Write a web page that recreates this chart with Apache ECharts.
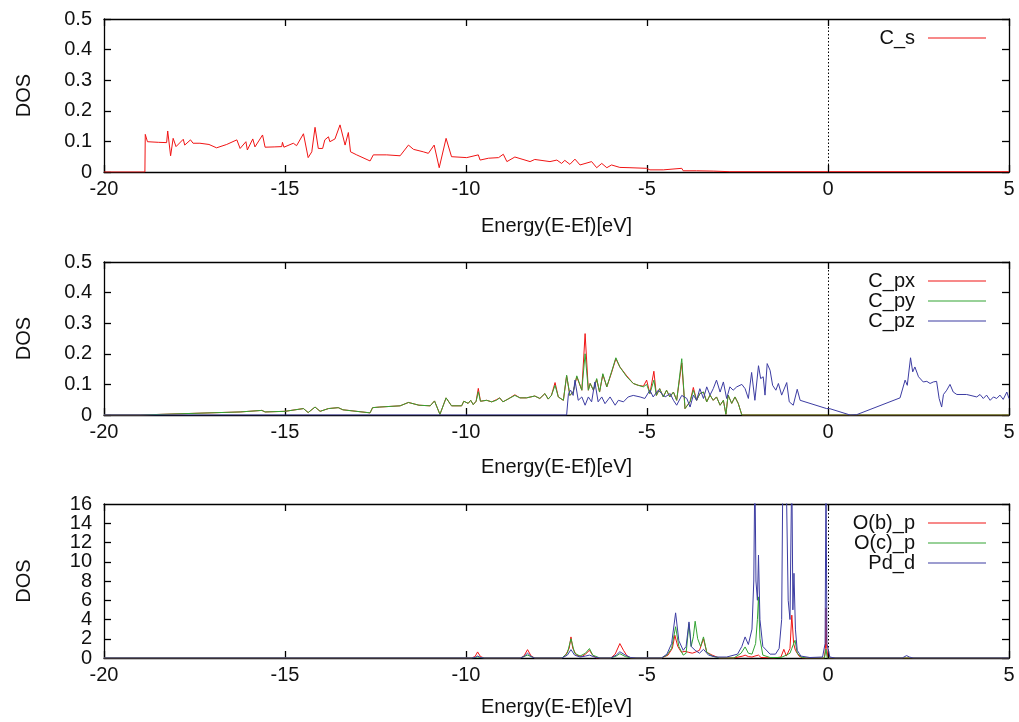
<!DOCTYPE html>
<html>
<head>
<meta charset="utf-8">
<script src="https://cdn.jsdelivr.net/npm/echarts@6/dist/echarts.min.js"></script>
<style>
  html, body { margin: 0; padding: 0; background: #fff; }
  #chart { width: 1019px; height: 722px; }
</style>
</head>
<body>
<div id="chart"></div>
<script>
// Projected density of states, energies relative to the Fermi level (eV)
const energyTicks = [-20, -15, -10, -5, 0, 5];

// Panel 1: carbon s states
const C_s = [[-20,0],[-18.87,0],[-18.86,0.123],[-18.80,0.099],[-18.5,0.097],[-18.27,0.096],[-18.24,0.134],[-18.16,0.053],[-18.09,0.11],[-18.01,0.083],[-17.81,0.107],[-17.77,0.088],[-17.61,0.105],[-17.54,0.094],[-17.35,0.094],[-17.1,0.09],[-16.89,0.079],[-16.61,0.090],[-16.33,0.105],[-16.24,0.077],[-16.08,0.099],[-16.04,0.072],[-15.89,0.108],[-15.83,0.082],[-15.62,0.121],[-15.55,0.081],[-15.3,0.082],[-15.09,0.083],[-15.07,0.097],[-15.03,0.081],[-14.77,0.094],[-14.68,0.086],[-14.49,0.125],[-14.36,0.047],[-14.26,0.066],[-14.17,0.146],[-14.08,0.077],[-13.96,0.077],[-13.90,0.105],[-13.80,0.115],[-13.76,0.099],[-13.62,0.108],[-13.48,0.154],[-13.34,0.088],[-13.25,0.129],[-13.19,0.066],[-13.02,0.056],[-12.65,0.036],[-12.56,0.056],[-12.19,0.056],[-11.82,0.053],[-11.59,0.088],[-11.45,0.074],[-11.18,0.066],[-11.04,0.061],[-10.88,0.088],[-10.74,0.014],[-10.55,0.11],[-10.40,0.05],[-9.98,0.047],[-9.66,0.056],[-9.61,0.039],[-9.38,0.045],[-9.10,0.047],[-8.97,0.058],[-8.87,0.034],[-8.65,0.049],[-8.23,0.034],[-8.10,0.041],[-7.68,0.034],[-7.49,0.039],[-7.36,0.028],[-7.27,0.038],[-7.13,0.025],[-6.99,0.042],[-6.85,0.023],[-6.53,0.034],[-6.39,0.014],[-6.25,0.028],[-6.11,0.014],[-5.98,0.023],[-5.75,0.015],[-5.47,0.014],[-5.01,0.012],[-4.92,0.007],[-4.55,0.007],[-4.04,0.012],[-4.00,0.004],[-3.63,0.004],[-3.17,0.003],[-2.71,0.001],[5,0.001]];

// Panel 2: carbon p states
const C_px = [[-20,0],[-19,0],[-17.9,0.004],[-16.24,0.01],[-15.64,0.015],[-15.55,0.010],[-15.0,0.012],[-14.49,0.021],[-14.36,0.008],[-14.17,0.026],[-14.03,0.012],[-13.80,0.021],[-13.53,0.024],[-13.4,0.017],[-12.65,0.007],[-12.58,0.024],[-12.38,0.026],[-11.82,0.03],[-11.59,0.041],[-11.3,0.032],[-10.99,0.03],[-10.87,0.046],[-10.72,0.002],[-10.55,0.056],[-10.40,0.03],[-10.12,0.03],[-10.06,0.045],[-9.94,0.038],[-9.87,0.048],[-9.80,0.034],[-9.72,0.045],[-9.66,0.087],[-9.60,0.045],[-9.43,0.048],[-9.29,0.043],[-9.16,0.05],[-9.07,0.056],[-8.98,0.043],[-8.84,0.052],[-8.65,0.066],[-8.51,0.056],[-8.33,0.056],[-8.10,0.062],[-7.96,0.054],[-7.82,0.07],[-7.73,0.052],[-7.64,0.064],[-7.54,0.106],[-7.45,0.059],[-7.31,0.048],[-7.22,0.128],[-7.13,0.064],[-7.04,0.075],[-6.94,0.125],[-6.80,0.081],[-6.71,0.266],[-6.62,0.081],[-6.57,0.103],[-6.48,0.081],[-6.39,0.116],[-6.31,0.075],[-6.22,0.132],[-6.11,0.092],[-5.98,0.138],[-5.86,0.184],[-5.75,0.157],[-5.56,0.128],[-5.38,0.103],[-5.24,0.097],[-5.10,0.094],[-5.01,0.114],[-4.92,0.07],[-4.81,0.143],[-4.74,0.064],[-4.65,0.086],[-4.55,0.059],[-4.46,0.081],[-4.37,0.059],[-4.27,0.075],[-4.18,0.048],[-4.04,0.17],[-3.95,0.021],[-3.81,0.043],[-3.72,0.09],[-3.63,0.048],[-3.54,0.07],[-3.44,0.075],[-3.35,0.043],[-3.26,0.065],[-3.17,0.048],[-3.08,0.059],[-2.98,0.032],[-2.89,0.048],[-2.82,0.002],[-2.76,0.065],[-2.66,0.038],[-2.57,0.059],[-2.48,0.038],[-2.38,0],[5,0]];
const C_py = [[-20,0],[-19,0],[-17.9,0.004],[-16.24,0.01],[-15.64,0.015],[-15.55,0.010],[-15.0,0.012],[-14.49,0.021],[-14.36,0.008],[-14.17,0.026],[-14.03,0.012],[-13.80,0.021],[-13.53,0.024],[-13.4,0.017],[-12.65,0.007],[-12.58,0.024],[-12.38,0.026],[-11.82,0.03],[-11.59,0.041],[-11.3,0.032],[-10.99,0.03],[-10.87,0.046],[-10.72,0.002],[-10.55,0.056],[-10.40,0.03],[-10.12,0.03],[-10.06,0.045],[-9.94,0.038],[-9.87,0.048],[-9.80,0.034],[-9.72,0.045],[-9.66,0.076],[-9.60,0.045],[-9.43,0.048],[-9.29,0.043],[-9.16,0.048],[-9.07,0.056],[-8.98,0.043],[-8.84,0.052],[-8.65,0.064],[-8.51,0.056],[-8.33,0.056],[-8.10,0.062],[-7.96,0.054],[-7.82,0.07],[-7.73,0.052],[-7.64,0.064],[-7.54,0.097],[-7.45,0.059],[-7.31,0.048],[-7.22,0.13],[-7.13,0.064],[-7.04,0.075],[-6.94,0.128],[-6.80,0.081],[-6.71,0.2],[-6.62,0.081],[-6.57,0.103],[-6.48,0.081],[-6.39,0.119],[-6.31,0.075],[-6.22,0.135],[-6.11,0.092],[-5.98,0.141],[-5.86,0.187],[-5.75,0.157],[-5.56,0.125],[-5.38,0.103],[-5.24,0.097],[-5.10,0.092],[-5.01,0.1],[-4.92,0.07],[-4.81,0.114],[-4.74,0.064],[-4.65,0.086],[-4.55,0.059],[-4.46,0.081],[-4.37,0.059],[-4.27,0.075],[-4.18,0.048],[-4.04,0.184],[-3.95,0.021],[-3.81,0.043],[-3.72,0.081],[-3.63,0.048],[-3.54,0.07],[-3.44,0.075],[-3.35,0.043],[-3.26,0.065],[-3.17,0.048],[-3.08,0.059],[-2.98,0.032],[-2.89,0.048],[-2.82,0.002],[-2.76,0.065],[-2.66,0.038],[-2.57,0.059],[-2.48,0.038],[-2.38,0],[5,0]];
const C_pz = [[-20,0],[-7.22,0],[-7.17,0.07],[-7.11,0.081],[-7.04,0.064],[-6.99,0.114],[-6.90,0.048],[-6.80,0.059],[-6.71,0.032],[-6.62,0.059],[-6.53,0.043],[-6.44,0.108],[-6.35,0.043],[-6.25,0.059],[-6.16,0.037],[-6.02,0.059],[-5.88,0.032],[-5.79,0.048],[-5.65,0.043],[-5.52,0.059],[-5.38,0.064],[-5.19,0.059],[-5.06,0.054],[-4.92,0.081],[-4.83,0.059],[-4.69,0.081],[-4.59,0.07],[-4.50,0.059],[-4.36,0.07],[-4.27,0.048],[-4.18,0.032],[-4.04,0.064],[-3.90,0.054],[-3.81,0.026],[-3.72,0.065],[-3.63,0.048],[-3.54,0.086],[-3.44,0.054],[-3.35,0.092],[-3.26,0.065],[-3.17,0.086],[-3.08,0.114],[-2.98,0.075],[-2.89,0.108],[-2.80,0.054],[-2.71,0.092],[-2.62,0.081],[-2.52,0.092],[-2.38,0.1],[-2.29,0.086],[-2.20,0.054],[-2.11,0.139],[-2.02,0.048],[-1.92,0.161],[-1.86,0.119],[-1.79,0.125],[-1.74,0.065],[-1.68,0.168],[-1.60,0.146],[-1.53,0.097],[-1.44,0.081],[-1.37,0.103],[-1.28,0.065],[-1.14,0.106],[-1.07,0.043],[-0.96,0.032],[-0.85,0.084],[-0.77,0.048],[-0.04,0.021],[0.04,0.021],[0.61,0],[0.79,0.001],[1.99,0.056],[2.13,0.114],[2.19,0.097],[2.28,0.187],[2.34,0.141],[2.40,0.157],[2.50,0.125],[2.63,0.108],[2.73,0.11],[2.82,0.103],[2.91,0.108],[3.00,0.11],[3.07,0.054],[3.14,0.026],[3.19,0.067],[3.28,0.081],[3.37,0.1],[3.46,0.075],[3.56,0.067],[3.83,0.067],[4.11,0.059],[4.20,0.067],[4.29,0.054],[4.38,0.065],[4.48,0.048],[4.57,0.059],[4.66,0.054],[4.75,0.065],[4.84,0.051],[4.94,0.075],[5.0,0.054]];

// Panel 3: oxygen p and palladium d states
const Ob_p = [[-20,0],[-9.85,0],[-9.75,0.15],[-9.68,0.63],[-9.6,0.15],[-9.5,0],[-8.5,0],[-8.4,0.2],[-8.3,0.87],[-8.2,0.2],[-8.1,0],[-7.35,0],[-7.25,0.3],[-7.15,1.0],[-7.10,2.19],[-7.05,1.0],[-6.95,0.3],[-6.8,0.15],[-6.7,0.4],[-6.59,0.8],[-6.5,0.3],[-6.4,0],[-6.0,0],[-5.88,0.4],[-5.75,1.5],[-5.65,0.8],[-5.55,0.2],[-5.45,0],[-4.6,0],[-4.42,0.3],[-4.3,1.0],[-4.23,2.36],[-4.15,1.2],[-4.05,0.6],[-3.95,0.7],[-3.86,0.6],[-3.75,0.5],[-3.67,0.6],[-3.55,0.8],[-3.44,2.0],[-3.35,0.6],[-3.2,0.3],[-3.0,0],[-2.6,0],[-2.35,0.2],[-2.29,0.3],[-2.2,0.15],[-2.1,0.1],[-2.02,0.2],[-1.92,0.3],[-1.85,0.05],[-1.5,0],[-1.3,0.1],[-1.22,0.9],[-1.15,0.2],[-1.05,1.0],[-1.0,4.45],[-0.95,1.5],[-0.9,0.8],[-0.8,0.2],[-0.7,0],[-0.1,0],[-0.07,1.0],[-0.055,5.2],[-0.035,1.0],[0.0,0],[5,0]];
const Oc_p = [[-20,0],[-9.85,0],[-9.68,0.1],[-9.5,0],[-8.5,0],[-8.3,0.3],[-8.1,0],[-7.35,0],[-7.2,0.5],[-7.10,2.0],[-7.0,0.5],[-6.85,0.2],[-6.7,0.5],[-6.59,0.98],[-6.5,0.3],[-6.3,0],[-6.0,0],[-5.85,0.2],[-5.75,0.45],[-5.6,0.15],[-5.45,0],[-4.6,0],[-4.45,0.3],[-4.32,1.0],[-4.21,3.25],[-4.12,1.2],[-4.0,0.3],[-3.92,0.5],[-3.84,3.57],[-3.78,1.2],[-3.72,2.2],[-3.67,3.82],[-3.6,2.0],[-3.52,1.2],[-3.44,2.19],[-3.35,0.6],[-3.2,0.2],[-3.0,0],[-2.6,0],[-2.4,0.5],[-2.29,1.15],[-2.2,0.5],[-2.1,0.4],[-2.0,1.5],[-1.95,4],[-1.92,6.35],[-1.88,2],[-1.8,0.3],[-1.6,0.05],[-1.3,0.05],[-1.15,0.3],[-1.05,0.5],[-1.0,1.0],[-0.91,1.84],[-0.85,0.5],[-0.75,0.1],[-0.6,0],[-0.1,0],[-0.055,0.9],[-0.02,0],[5,0]];
const Pd_d = [[-20,0],[-9.85,0],[-9.75,0.05],[-9.68,0.2],[-9.6,0.05],[-9.5,0],[-8.5,0],[-8.4,0.15],[-8.3,0.5],[-8.2,0.15],[-8.1,0],[-7.35,0],[-7.2,0.3],[-7.10,0.87],[-7.0,0.3],[-6.85,0.1],[-6.7,0.2],[-6.59,0.3],[-6.45,0.1],[-6.3,0],[-6.0,0],[-5.85,0.3],[-5.75,0.65],[-5.6,0.3],[-5.45,0.05],[-5.3,0],[-4.6,0],[-4.45,0.4],[-4.32,1.5],[-4.21,4.69],[-4.12,1.8],[-4.0,0.8],[-3.92,1.2],[-3.84,3.75],[-3.78,1.2],[-3.67,0.8],[-3.55,0.5],[-3.44,0.9],[-3.3,0.3],[-3.1,0.1],[-2.8,0.1],[-2.5,0.4],[-2.38,1.2],[-2.29,2.19],[-2.2,1.4],[-2.1,3.0],[-2.05,8],[-2.02,20],[-1.99,8],[-1.95,6],[-1.92,10.7],[-1.88,4],[-1.8,1.2],[-1.6,0.4],[-1.45,0.4],[-1.35,1.0],[-1.28,4],[-1.25,18],[-1.20,30],[-1.15,18],[-1.10,6],[-1.05,4],[-1.0,20],[-0.97,5],[-0.94,8.8],[-0.9,3],[-0.85,0.8],[-0.75,0.2],[-0.5,0.05],[-0.15,0.1],[-0.08,1.5],[-0.055,20],[-0.03,1.5],[0.05,0.1],[0.2,0],[2.05,0],[2.1,0.2],[2.17,0.25],[2.25,0.1],[2.35,0],[5,0]];

const panels = [
  { top: 19,  height: 153, yMax: 0.5, yStep: 0.1, labelEvery: 1, nameGap: 44,
    series: [{ name: 'C_s', data: C_s, color: '#f01414' }] },
  { top: 262, height: 153, yMax: 0.5, yStep: 0.1, labelEvery: 1, nameGap: 42,
    series: [{ name: 'C_px', data: C_px, color: '#f01414' },
             { name: 'C_py', data: C_py, color: '#33a433' },
             { name: 'C_pz', data: C_pz, color: '#3c3ca2' }] },
  { top: 504, height: 154, yMax: 16, yStep: 2, labelEvery: 2, nameGap: 39,
    series: [{ name: 'O(b)_p', data: Ob_p, color: '#f01414' },
             { name: 'O(c)_p', data: Oc_p, color: '#33a433' },
             { name: 'Pd_d', data: Pd_d, color: '#3c3ca2' }] }
];

const FONT = '"Liberation Sans", Arial, Helvetica, sans-serif';
const PLOT_LEFT = 104, PLOT_RIGHT = 10;
const labelText = { fontSize: 20, color: '#111', fontFamily: FONT };

const frameLine = { show: true, onZero: false, lineStyle: { color: '#000', width: 1.3 } };
const frameTick = { show: true, inside: true, length: 7, lineStyle: { color: '#000', width: 1.3 } };

const grid = [], xAxis = [], yAxis = [], series = [], graphic = [];

panels.forEach((p, i) => {
  grid.push({ left: PLOT_LEFT, right: PLOT_RIGHT, top: p.top, height: p.height, containLabel: false });

  // bottom energy axis with labels
  const xIndex = xAxis.length;
  xAxis.push({
    type: 'value', gridIndex: i, position: 'bottom',
    min: energyTicks[0], max: energyTicks[energyTicks.length - 1], interval: 5,
    name: 'Energy(E-Ef)[eV]', nameLocation: 'middle', nameGap: p.nameGap,
    nameTextStyle: labelText,
    axisLine: frameLine, axisTick: frameTick, splitLine: { show: false },
    axisLabel: Object.assign({ margin: 7, showMinLabel: true, showMaxLabel: true }, labelText)
  });
  // mirrored top axis (ticks only)
  xAxis.push({
    type: 'value', gridIndex: i, position: 'top',
    min: energyTicks[0], max: energyTicks[energyTicks.length - 1], interval: 5,
    axisLine: frameLine, axisTick: frameTick, splitLine: { show: false },
    axisLabel: { show: false }
  });

  // left DOS axis: carries the frame line and the main set of labels
  const labelStep = p.yStep * p.labelEvery;
  const yIndex = yAxis.length;
  yAxis.push({
    type: 'value', gridIndex: i, position: 'left',
    min: 0, max: p.yMax, interval: labelStep,
    name: 'DOS', nameLocation: 'middle', nameGap: 70, nameRotate: 90,
    nameTextStyle: labelText,
    axisLine: frameLine,
    axisTick: p.labelEvery === 1 ? frameTick : { show: false },
    splitLine: { show: false },
    axisLabel: Object.assign({ margin: 12, showMinLabel: true, showMaxLabel: true }, labelText)
  });
  if (p.labelEvery > 1) {
    // in-between labels and every tick, on a twin axis sharing the same scale
    yAxis.push({
      type: 'value', gridIndex: i, position: 'left',
      min: 0, max: p.yMax, interval: p.yStep,
      axisLine: { show: false, onZero: false }, axisTick: frameTick, splitLine: { show: false },
      axisLabel: Object.assign({
        margin: 12, showMinLabel: false, showMaxLabel: false,
        formatter: v => (Math.round(v / p.yStep) % p.labelEvery === 0 ? '' : String(v))
      }, labelText)
    });
  }
  // mirrored right axis (ticks only)
  yAxis.push({
    type: 'value', gridIndex: i, position: 'right',
    min: 0, max: p.yMax, interval: p.yStep,
    axisLine: frameLine, axisTick: frameTick, splitLine: { show: false },
    axisLabel: { show: false }
  });

  p.series.forEach((s, k) => {
    const item = {
      type: 'line', name: s.name, data: s.data,
      xAxisIndex: xIndex, yAxisIndex: yIndex,
      showSymbol: false, symbol: 'none', clip: true, z: 3 + k,
      lineStyle: { color: s.color, width: 1 },
      itemStyle: { color: s.color }
    };
    if (k === 0) {
      // Fermi level marker
      item.markLine = {
        silent: true, symbol: 'none', label: { show: false }, animation: false,
        lineStyle: { type: [1.5, 2], color: '#000', width: 1 },
        data: [{ xAxis: 0 }]
      };
    }
    series.push(item);

    // key entry: name, then a short sample of the line
    const rowY = p.top + 19 + 20 * k;
    graphic.push({
      type: 'text', x: 915, y: rowY, z: 10,
      style: { text: s.name, textAlign: 'right', textVerticalAlign: 'middle',
               font: '20px ' + FONT, fill: '#111' }
    });
    graphic.push({
      type: 'line', z: 10,
      shape: { x1: 928, y1: rowY, x2: 986, y2: rowY },
      style: { stroke: s.color, lineWidth: 1.2 }
    });
  });
});

const chart = echarts.init(document.getElementById('chart'), null, { renderer: 'canvas' });
chart.setOption({
  animation: false,
  backgroundColor: '#fff',
  grid, xAxis, yAxis, series, graphic
});
</script>
</body>
</html>
